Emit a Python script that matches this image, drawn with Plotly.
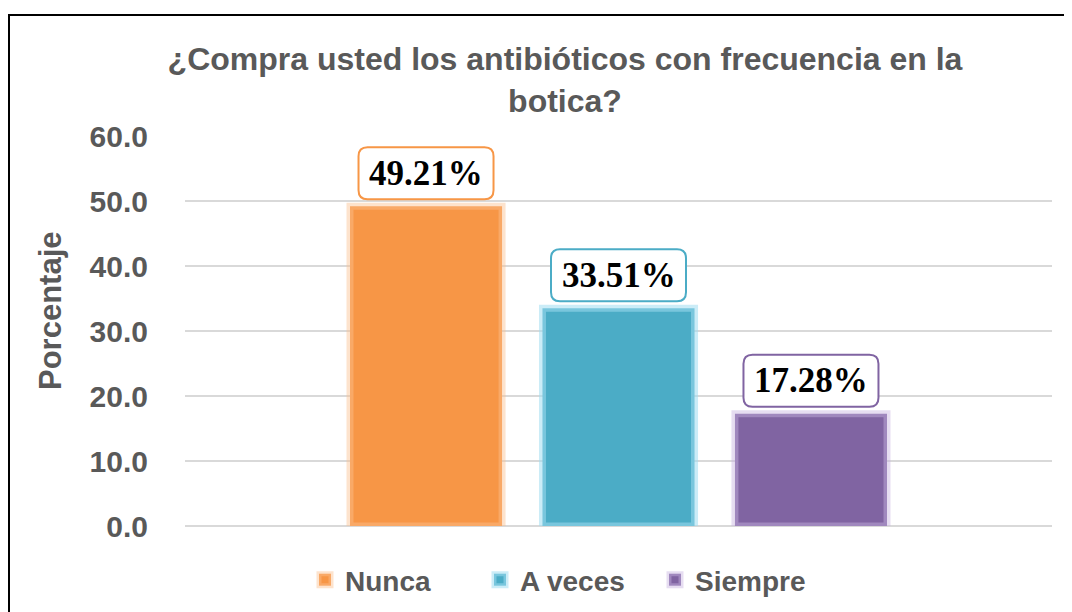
import plotly.graph_objects as go

categories = ["Nunca", "A veces", "Siempre"]
values = [49.21, 33.51, 17.28]
colors = ["#F79646", "#4BACC6", "#8064A2"]
glows = ["rgba(250,192,144,0.45)", "rgba(160,220,240,0.55)", "rgba(200,180,225,0.45)"]
label_texts = ["49.21%", "33.51%", "17.28%"]
y_ticks = [0, 10, 20, 30, 40, 50, 60]

# page body has an 8px default margin; work in figure coordinates
OFF = 8
W, H = 1072 - OFF, 612 - OFF
L, T = 185 - OFF, 136 - OFF
R = W - (1052 - OFF)
B = H - (526 - OFF)
pw, ph = W - L - R, H - T - B
slot = pw * (1 - 0.334) / 3


def py(screen_y):
    """screen y pixel -> paper y"""
    return ((526 - OFF) - (screen_y - OFF)) / ph


fig = go.Figure()
for i, (cat, v, c, g) in enumerate(zip(categories, values, colors, glows)):
    fig.add_trace(go.Bar(
        x=[0], y=[v], name=cat,
        marker=dict(color=c, line=dict(color=g, width=7)),
        hoverinfo="skip",
    ))

fig.update_layout(
    width=W, height=H,
    margin=dict(l=L, r=R, t=T, b=B, autoexpand=False),
    paper_bgcolor="white", plot_bgcolor="white",
    barmode="group", bargap=0.334, bargroupgap=0.21,
    title=dict(
        text="¿Compra usted los antibióticos con frecuencia en la<br>botica?",
        x=(565 - OFF) / W, xref="container", xanchor="center",
        y=1 - 62 / H, yref="container", yanchor="top",
        font=dict(family="Liberation Sans", size=32, color="#595959", weight="bold"),
    ),
    xaxis=dict(range=[-0.5, 0.5], showticklabels=False, showgrid=False, zeroline=False,
               ticks="", showline=False, fixedrange=True),
    yaxis=dict(range=[0, 60], tickvals=y_ticks, tickformat=".1f",
               showgrid=True, gridcolor="#D9D9D9", gridwidth=1.5,
               zeroline=True, zerolinecolor="#D9D9D9", zerolinewidth=1.5,
               ticks="", ticklabelstandoff=36,
               tickfont=dict(family="Liberation Sans", size=30, color="#595959", weight="bold")),
    legend=dict(orientation="h", x=(305 - OFF) / W, xref="container", xanchor="left",
                y=py(580), yanchor="middle",
                font=dict(family="Liberation Sans", size=28, color="#595959", weight="bold"),
                itemwidth=30, entrywidth=130, entrywidthmode="pixels", tracegroupgap=0),
    showlegend=True,
)

# y-axis title
fig.add_annotation(
    text="Porcentaje", textangle=-90, showarrow=False,
    xref="paper", yref="paper",
    x=(50 - 185) / pw, y=py(311), xanchor="center", yanchor="middle",
    font=dict(family="Liberation Sans", size=31, color="#595959", weight="bold"),
)

# data labels in rounded boxes anchored at each bar top
hw, hh, r, lift = 67.5, 26, 9, 33
for i, (v, c, t) in enumerate(zip(values, colors, label_texts)):
    cx, cy = (i - 1) * slot, lift
    x0, x1, y0, y1 = cx - hw, cx + hw, cy - hh, cy + hh
    path = (f"M {x0 + r},{y0} L {x1 - r},{y0} Q {x1},{y0} {x1},{y0 + r} "
            f"L {x1},{y1 - r} Q {x1},{y1} {x1 - r},{y1} L {x0 + r},{y1} "
            f"Q {x0},{y1} {x0},{y1 - r} L {x0},{y0 + r} Q {x0},{y0} {x0 + r},{y0} Z")
    fig.add_shape(type="path", path=path, xref="x", yref="y",
                  xsizemode="pixel", ysizemode="pixel", xanchor=0, yanchor=v,
                  line=dict(color=c, width=2), fillcolor="white", layer="above")
    fig.add_annotation(
        text=t, x=0, y=v, xref="x", yref="y",
        xshift=cx, yshift=cy,
        showarrow=False, yanchor="middle", xanchor="center",
        font=dict(family="Liberation Serif", size=35, color="black", weight="bold"),
    )

# outer border of chart area
fig.add_shape(type="rect", xref="paper", yref="paper",
              x0=(1 - L) / pw, x1=(W + 20 - L) / pw,
              y0=py(612 + 20), y1=py(15),
              line=dict(color="black", width=2), fillcolor="rgba(0,0,0,0)", layer="above")

fig.write_html("out.html")
